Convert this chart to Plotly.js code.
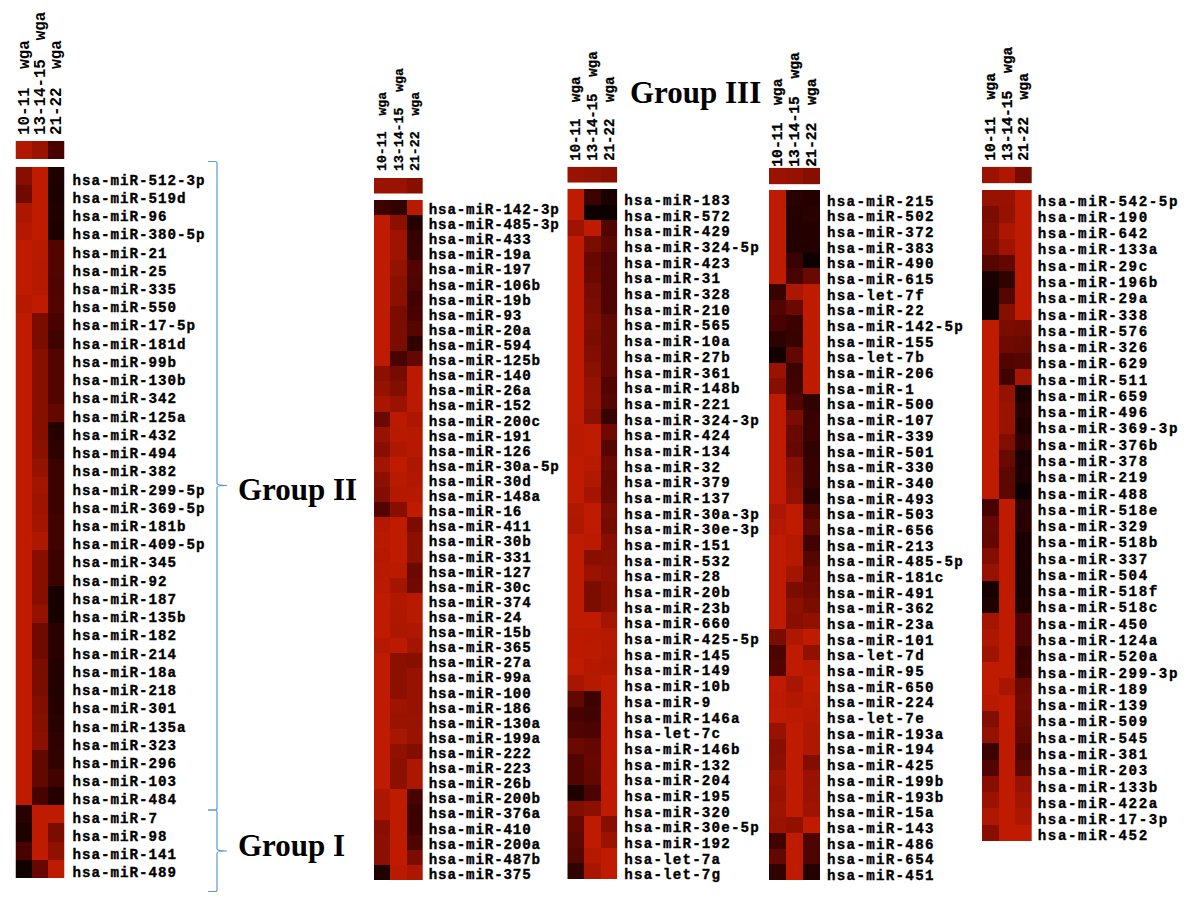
<!DOCTYPE html>
<html><head><meta charset="utf-8">
<script src="https://cdn.plot.ly/plotly-3.0.1.min.js"></script>
<style>html,body{margin:0;padding:0;background:#fff}#c{width:1200px;height:907px}</style></head>
<body><div id="c"></div>
<script>
const stages = ['10-11\u00a0\u00a0wga','13-14-15\u00a0\u00a0wga','21-22\u00a0\u00a0wga'];

const mirs1 = ['512-3p','519d','96','380-5p','21','25','335','550','17-5p','181d','99b','130b','342','125a','432','494','382','299-5p','369-5p','181b','409-5p','345','92','187','135b','182','214','18a','218','301','135a','323','296','103','484','7','98','141','489'];
const early1 = [.6,.45,.85,.92,1,1,1,.93,1,1,1,1,1,1,1,1,1,1,1,1,1,1,1,1,1,1,1,1,1,1,1,1,1,1,1,.12,.08,.25,.02];
const mid1 = [1,1,1,1,.95,.93,.93,1,.5,.5,.58,.58,.58,.58,.6,.62,.68,.78,.75,.8,.88,.6,.6,.6,.68,.45,.45,.5,.5,.55,.58,.62,.38,.38,.25,1,1,1,.4];
const late1 = [.08,.07,.08,.07,.3,.3,.28,.3,.25,.22,.3,.3,.3,.38,.1,.14,.2,.2,.2,.22,.22,.2,.2,.04,.04,.12,.12,.09,.09,.1,.12,.14,.15,.22,.1,1,.5,.65,1];
const top1 = [.9,.72,.25];

const mirs2 = ['142-3p','485-3p','433','19a','197','106b','19b','93','20a','594','125b','140','26a','152','200c','191','126','30a-5p','30d','148a','16','411','30b','331','127','30c','374','24','15b','365','27a','99a','100','186','130a','199a','222','223','26b','200b','376a','410','200a','487b','375'];
const early2 = [.2,1,1,1,1,1,1,1,1,1,1,.62,.68,.82,.42,.7,.58,.78,.62,.55,.3,.92,.95,.92,.95,.97,1,1,1,.92,1,1,1,1,1,1,1,1,1,.85,.85,.6,.62,.62,.08];
const mid2 = [.15,.62,.75,.75,.68,.62,.62,.5,.5,.5,.25,.48,.55,.72,.97,.95,.88,1,.95,.92,.6,1,1,1,.97,.8,.9,.88,.85,.98,.62,.62,.62,.75,.72,.82,.65,.62,.62,1,1,1,1,1,.97];
const late2 = [.95,.1,.17,.18,.3,.28,.22,.25,.32,.15,.38,.97,.97,.97,.85,.93,.93,.85,.9,.93,1,.5,.62,.62,.42,.45,.95,.95,.88,.8,.6,.7,.7,.7,.72,.72,.55,.85,.85,.25,.2,.2,.28,.5,.85];
const top2 = [.72,.72,.6];

const mirs3 = ['183','572','429','324-5p','423','31','328','210','565','10a','27b','361','148b','221','324-3p','424','134','32','379','137','30a-3p','30e-3p','151','532','28','20b','23b','660','425-5p','145','149','10b','9','146a','let-7c','146b','132','204','195','320','30e-5p','192','let-7a','let-7g'];
const early3 = [1,1,.75,1,1,1,1,1,1,1,1,1,1,1,1,.97,.97,1,1,1,.9,.88,1,1,1,1,1,1,.97,.98,1,.82,.38,.25,.28,.42,.3,.3,.08,.55,.4,.35,.32,.15];
const mid3 = [.2,0,1,.5,.4,.42,.48,.5,.55,.5,.55,.62,.68,.7,.62,1,1,.95,.9,.8,1,1,.97,.6,.72,.5,.5,1,.95,.97,.92,.93,.2,.22,.27,.38,.4,.38,.27,.62,1,1,.92,.82];
const late3 = [.06,0,.3,.35,.28,.28,.28,.28,.38,.38,.38,.38,.3,.32,.18,.45,.32,.42,.4,.42,.5,.48,.6,.62,.65,.62,.62,.78,.92,.92,.9,1,1,1,1,1,1,1,1,1,.6,.72,1,1];
const top3 = [.72,.68,.62];

const mirs4 = ['215','502','372','383','490','615','let-7f','22','142-5p','155','let-7b','206','1','500','107','339','501','330','340','493','503','656','213','485-5p','181c','491','362','23a','101','let-7d','95','650','224','let-7e','193a','194','425','199b','193b','15a','143','486','654','451'];
const early4 = [1,1,1,1,1,1,.18,.3,.25,.14,.03,.72,.58,1,1,1,1,1,1,1,.85,.92,1,1,1,1,1,1,.5,.27,.3,1,.98,1,.7,.58,.62,.75,.7,.75,.72,.22,.38,.15];
const mid4 = [.12,.1,.1,.1,.18,.25,.85,.42,.2,.18,.38,.2,.22,.3,.5,.42,.4,.58,.62,.68,1,1,.92,.93,.78,.5,.62,.6,.88,1,1,.82,.9,.98,1,1,1,1,1,1,.65,1,1,1];
const late4 = [.1,.12,.1,.1,0,.42,1,1,1,1,1,1,1,.15,.18,.2,.15,.17,.17,.1,.28,.38,.22,.32,.4,.45,.5,.65,1,.65,.95,1,.95,.92,.88,.88,.55,.7,.72,.75,1,.28,.28,.1];
const top4 = [.72,.68,.6];

const mirs5 = ['542-5p','190','642','133a','29c','196b','29a','338','576','326','629','511','659','496','369-3p','376b','378','219','488','518e','329','518b','337','504','518f','518c','450','124a','520a','299-3p','189','139','509','545','381','203','133b','422a','17-3p','452'];
const early5 = [.7,.5,.55,.5,.32,.05,.03,.03,1,1,1,1,1,1,1,1,1,1,1,.25,.4,.38,.55,.7,.04,.08,.8,.85,.75,1,1,.95,.55,.68,.2,.3,.6,.72,.88,.6];
const mid5 = [.7,.68,.85,.75,.38,.15,.32,.58,.5,.45,.3,.22,.68,.72,.72,.55,.42,.35,.35,1,1,1,1,1,1,1,1,1,1,1,.82,1,1,1,1,1,1,1,1,1];
const late5 = [1,1,1,1,1,1,1,1,.48,.42,.32,.82,.06,.12,.08,.15,.05,.08,0,.12,.12,.06,.05,.05,.05,.08,.28,.28,.18,.2,.42,.45,.42,.38,.3,.35,.7,.78,.85,1];
const top5 = [.72,.88,.48];

const W = 1200, H = 907;
const scale = [[0,'#0c0000'],[.25,'#480300'],[.5,'#7a0c00'],[.75,'#9e1400'],[1,'#be1b00']];
const geom = [
 {x0:15.5, x1:64.5,  t0:141,  t1:159,  m0:167, m1:878, cw:9.5,  head:15.8, off:7, hoff:5,   shift:3.5},
 {x0:374,  x1:422.7, t0:178,  t1:193.5,m0:200, m1:880, cw:9.36, head:13.2, off:5, hoff:6,   shift:1.5},
 {x0:567.3,x1:617.3, t0:166.7,t1:182.7,m0:189, m1:879, cw:9.7,  head:14,   off:6, hoff:5,   shift:3.2},
 {x0:769,  x1:820,   t0:167.7,t1:184.3,m0:190, m1:880, cw:9.8,  head:14.7, off:6, hoff:3.5, shift:2.8},
 {x0:982,  x1:1031.7,t0:166.7,t1:183.3,m0:190, m1:841, cw:10.1, head:14.6, off:5, hoff:5,   shift:2.5}
];
const labelSize = 14.2;
const sets = [
 [mirs1,early1,mid1,late1,top1],[mirs2,early2,mid2,late2,top2],[mirs3,early3,mid3,late3,top3],
 [mirs4,early4,mid4,late4,top4],[mirs5,early5,mid5,late5,top5]
];
const name = m => m.startsWith('let') ? 'hsa-'+m : 'hsa-miR-'+m;
const traces = [], layout = {
  width:W, height:H, margin:{l:0,r:0,t:0,b:0,pad:0}, paper_bgcolor:'#fff', plot_bgcolor:'rgba(0,0,0,0)',
  showlegend:false, font:{family:'Liberation Mono',color:'#000'}
};
let css = '';
const bare = {ticks:'',showgrid:false,zeroline:false,showline:false};
sets.forEach((s,i)=>{
  const g = geom[i], [mirs,a,b,c,top] = s;
  const ax1 = 3*i+1, ax2 = 3*i+2, ax3 = 3*i+3;
  const labels = mirs.map(name);
  const xd = [g.x0/W, g.x1/W];
  traces.push({type:'heatmap',x:stages,y:['avg'],z:[top],zmin:0,zmax:1,colorscale:scale,showscale:false,xaxis:'x'+ax1,yaxis:'y'+ax1});
  layout['xaxis'+ax1] = {...bare,domain:xd,anchor:'y'+ax1,side:'top',type:'category',tickangle:-90,range:[-.5,2.5],
     tickmode:'array',tickvals:stages,ticktext:stages,
     tickfont:{family:'Liberation Mono',size:g.head,weight:700,color:'#000'},ticklabelstandoff:g.hoff};
  layout['yaxis'+ax1] = {...bare,domain:[1-g.t1/H,1-g.t0/H],anchor:'x'+ax1,showticklabels:false};
  traces.push({type:'heatmap',x:stages,y:labels,z:labels.map((_,k)=>[a[k],b[k],c[k]]),zmin:0,zmax:1,colorscale:scale,showscale:false,xaxis:'x'+ax2,yaxis:'y'+ax2});
  layout['xaxis'+ax2] = {...bare,domain:xd,anchor:'y'+ax2,showticklabels:false,type:'category',range:[-.5,2.5]};
  layout['yaxis'+ax2] = {...bare,domain:[1-g.m1/H,1-g.m0/H],anchor:'x'+ax2,type:'category',range:[labels.length-.5,-.5],showticklabels:false};
  // row names sit slightly below the row centres in the reference, so they hang on their own axis
  traces.push({type:'scatter',mode:'markers',x:labels.map(()=>stages[0]),y:labels,marker:{opacity:0},xaxis:'x'+ax2,yaxis:'y'+ax3});
  layout['yaxis'+ax3] = {...bare,domain:[1-(g.m1+g.shift)/H,1-(g.m0+g.shift)/H],anchor:'x'+ax2,side:'right',type:'category',range:[labels.length-.5,-.5],
     tickmode:'array',tickvals:labels,ticktext:labels,tickfont:{family:'Liberation Mono',size:labelSize,weight:700,color:'#000'},ticklabelstandoff:g.off};
  css += `.y${ax3}tick text{letter-spacing:${(g.cw-labelSize*0.6).toFixed(2)}px;stroke:#000;stroke-width:.35px}\n`;
  css += `.x${ax1}tick text{stroke:#000;stroke-width:.3px}\n`;
});
const st = document.createElement('style'); st.textContent = css; document.head.appendChild(st);
const serif = {family:'Liberation Serif',size:31,color:'#000',weight:700};
const note = (text,x,y)=>({text,x:x/W,y:1-y/H,xref:'paper',yref:'paper',xanchor:'left',yanchor:'middle',showarrow:false,font:serif});
layout.annotations = [note('Group II',236,489),note('Group III',628,93),note('Group I',236,845)];
const fx = x=>x/W, fy = y=>1-y/H;
const bracket = (y0,ym,y1)=>({type:'path',xref:'paper',yref:'paper',line:{color:'#5b9bd5',width:1.2},
  path:`M ${fx(208)} ${fy(y0)} L ${fx(215)} ${fy(y0)} Q ${fx(217)} ${fy(y0)} ${fx(217)} ${fy(y0+2)} L ${fx(217)} ${fy(ym-2)} Q ${fx(217)} ${fy(ym)} ${fx(227)} ${fy(ym)} Q ${fx(217)} ${fy(ym)} ${fx(217)} ${fy(ym+2)} L ${fx(217)} ${fy(y1-2)} Q ${fx(217)} ${fy(y1)} ${fx(215)} ${fy(y1)} L ${fx(208)} ${fy(y1)}`});
layout.shapes = [bracket(161.5,485.5,810),bracket(810,851,891.5)];
Plotly.newPlot('c',traces,layout,{displayModeBar:false,staticPlot:true});
</script></body></html>
